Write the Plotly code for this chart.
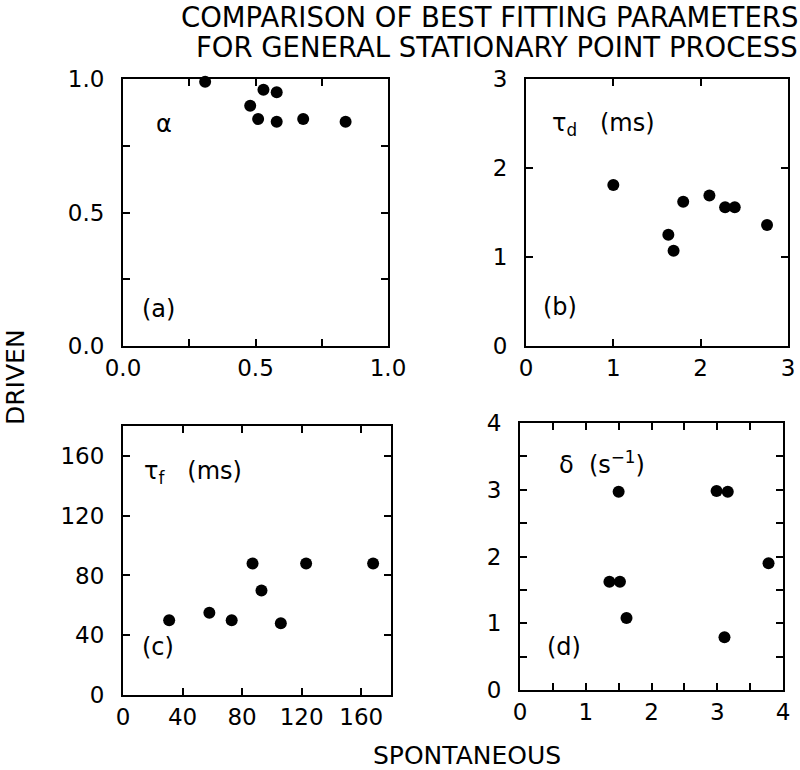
import plotly.graph_objects as go

# ---- data ----
a_spont = [0.31, 0.53, 0.58, 0.48, 0.51, 0.58, 0.68, 0.84]
a_driven = [0.99, 0.96, 0.95, 0.90, 0.85, 0.84, 0.85, 0.84]

b_spont = [1.00, 1.63, 1.69, 1.80, 2.10, 2.28, 2.39, 2.76]
b_driven = [1.81, 1.25, 1.07, 1.62, 1.69, 1.56, 1.56, 1.36]

c_spont = [31, 58, 73, 87, 93, 106, 123, 168]
c_driven = [50, 55, 50, 88, 70, 48, 88, 88]

d_spont = [1.50, 2.99, 3.16, 1.36, 1.52, 1.62, 3.11, 3.78]
d_driven = [2.97, 2.98, 2.97, 1.62, 1.62, 1.08, 0.79, 1.90]

a_ticks = [0, 0.5, 1.0]
a_ticktext = ["0.0", "0.5", "1.0"]
a_minor = [0.25, 0.75]
b_ticks = [0, 1, 2, 3]
b_ticktext = ["0", "1", "2", "3"]
c_ticks = [0, 40, 80, 120, 160]
c_ticktext = ["0", "40", "80", "120", "160"]
d_ticks = [0, 1, 2, 3, 4]
d_ticktext = ["0", "1", "2", "3", "4"]
d_minor = [0.5, 1.5, 2.5, 3.5]

title_lines = ["COMPARISON OF BEST FITTING PARAMETERS",
               "FOR GENERAL STATIONARY POINT PROCESS"]

FONT = "DejaVu Sans"
W, H = 800, 770
NB = "\u00a0"

fig = go.Figure()

panels = [
    ("x", "y", a_spont, a_driven),
    ("x2", "y2", b_spont, b_driven),
    ("x3", "y3", c_spont, c_driven),
    ("x4", "y4", d_spont, d_driven),
]
for xa, ya, xs, ys in panels:
    fig.add_trace(go.Scatter(x=xs, y=ys, xaxis=xa, yaxis=ya, mode="markers",
                             marker=dict(color="black", size=12),
                             cliponaxis=False, showlegend=False))

def px_dom(x0, x1):
    return [x0 / W, x1 / W]

def py_dom(top, bottom):
    return [1 - bottom / H, 1 - top / H]

def ax(domain, rng, tv, tt, anchor, standoff, minor=None):
    d = dict(domain=domain, range=rng, tickvals=tv, ticktext=tt,
             anchor=anchor, showline=True, linecolor="black", linewidth=2,
             mirror="ticks", ticks="inside", ticklen=7, tickwidth=1.5,
             tickcolor="black", showgrid=False, zeroline=False,
             automargin=False,
             tickfont=dict(family=FONT, size=23, color="black"),
             ticklabelstandoff=standoff, fixedrange=True)
    if minor:
        d["minor"] = dict(tickvals=minor, ticks="inside", ticklen=7,
                          tickwidth=1.5, tickcolor="black", showgrid=False)
    return d

layout = dict(
    width=W, height=H, margin=dict(l=0, r=0, t=0, b=0, pad=0),
    paper_bgcolor="white", plot_bgcolor="white",
    font=dict(family=FONT, color="black"),
    xaxis=ax(px_dom(123, 388), [0, 1], a_ticks, a_ticktext, "y", 0, a_minor),
    yaxis=ax(py_dom(79, 346), [0, 1], a_ticks, a_ticktext, "x", 12, a_minor),
    xaxis2=ax(px_dom(526, 788), [0, 3], b_ticks, b_ticktext, "y2", 0),
    yaxis2=ax(py_dom(79, 346), [0, 3], b_ticks, b_ticktext, "x2", 12),
    xaxis3=ax(px_dom(123, 391), [0, 180], c_ticks, c_ticktext, "y3", 0),
    yaxis3=ax(py_dom(426, 695), [0, 180], c_ticks, c_ticktext, "x3", 12),
    xaxis4=ax(px_dom(520, 783), [0, 4], d_ticks, d_ticktext, "y4", 0, d_minor),
    yaxis4=ax(py_dom(423, 690), [0, 4], d_ticks, d_ticktext, "x4", 12, d_minor),
)
fig.update_layout(**layout)

lab_font = dict(family=FONT, size=24, color="black")
annotations = [
    # panel labels
    dict(x=0.153, y=0.83, xref="x", yref="y", text="α", showarrow=False,
         font=lab_font),
    dict(x=0.135, y=0.14, xref="x", yref="y", text="(a)", showarrow=False,
         font=lab_font),
    dict(x=0.27, y=2.49, xref="x2", yref="y2", xanchor="left",
         text="τ<sub>d</sub>" + NB * 3 + "(ms)", showarrow=False, font=lab_font),
    dict(x=0.39, y=0.44, xref="x2", yref="y2", text="(b)", showarrow=False,
         font=lab_font),
    dict(x=13, y=149, xref="x3", yref="y3", xanchor="left",
         text="τ<sub>f</sub>" + NB * 3 + "(ms)", showarrow=False, font=lab_font),
    dict(x=23.7, y=32, xref="x3", yref="y3", text="(c)", showarrow=False,
         font=lab_font),
    dict(x=0.56, y=3.4, xref="x4", yref="y4", xanchor="left",
         text="δ" + NB * 2 + "(s<sup>−1</sup>)", showarrow=False, font=lab_font),
    dict(x=0.67, y=0.65, xref="x4", yref="y4", text="(d)", showarrow=False,
         font=lab_font),
    # axis titles
    dict(x=15 / W, y=1 - 377 / H, xref="paper", yref="paper", text="DRIVEN",
         xanchor="center", yanchor="middle",
         textangle=-90, showarrow=False, font=dict(family=FONT, size=25)),
    dict(x=467 / W, y=1 - 755 / H, xref="paper", yref="paper",
         xanchor="center", yanchor="middle",
         text="SPONTANEOUS", showarrow=False, font=dict(family=FONT, size=25)),
    # title (two right-aligned lines)
    dict(x=1.0, y=1 - 17 / H, xref="paper", yref="paper", xanchor="right",
         yanchor="middle", text=title_lines[0],
         showarrow=False, font=dict(family=FONT, size=27.5)),
    dict(x=1.0, y=1 - 47 / H, xref="paper", yref="paper", xanchor="right",
         yanchor="middle", text=title_lines[1],
         showarrow=False, font=dict(family=FONT, size=27.5)),
]
fig.update_layout(annotations=annotations)

fig.write_html("out.html")
